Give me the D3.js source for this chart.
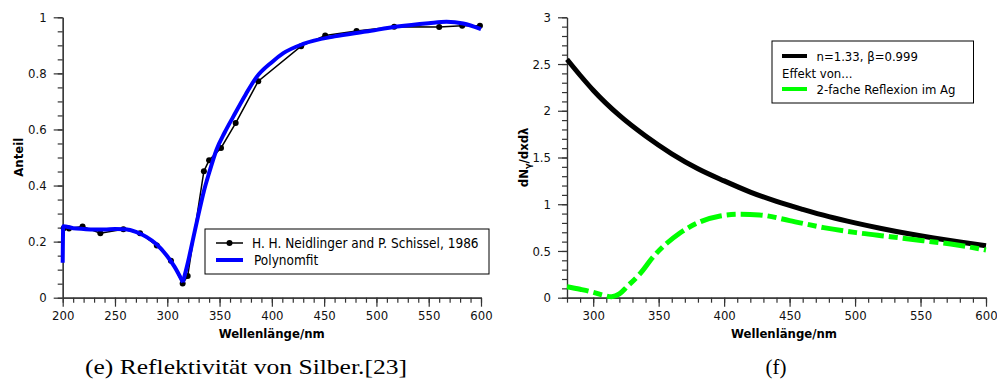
<!DOCTYPE html>
<html>
<head>
<meta charset="utf-8">
<script src="https://cdn.jsdelivr.net/npm/d3@7"></script>
<style>
  body { margin: 0; background: #fff; }
  svg { display: block; }
  text { font-family: "DejaVu Sans Condensed", "DejaVu Sans", sans-serif; }
  .caption { font-family: "Liberation Serif", "DejaVu Serif", serif; }
</style>
</head>
<body>
<div id="chart"></div>
<script>
// panel (e): measured reflectivity of silver
const measWl  = [201, 206, 219, 236, 258, 274, 290, 303.5, 314.7, 319.5, 335, 340, 351.4, 365.4, 387, 428, 451, 481, 517, 560, 582, 599];
const measVal = [0.248, 0.247, 0.254, 0.23, 0.244, 0.23, 0.186, 0.132, 0.051, 0.077, 0.451, 0.49, 0.534, 0.623, 0.772, 0.897, 0.935, 0.951, 0.966, 0.965, 0.97, 0.97];

// polynomial fit, left branch (up to the dip) and right branch
const fitLeftWl   = [200, 200.5, 210, 220, 230, 240, 250, 260, 270, 280, 290, 300, 307, 315];
const fitLeftVal  = [0.125, 0.255, 0.248, 0.245, 0.243, 0.243, 0.245, 0.244, 0.235, 0.217, 0.19, 0.148, 0.11, 0.055];
const fitRightWl  = [315, 320, 325, 330, 335, 340, 347, 355, 363, 375, 385, 400, 411, 430, 460, 490, 520, 550, 567, 583, 600];
const fitRightVal = [0.055, 0.13, 0.215, 0.3, 0.38, 0.445, 0.527, 0.59, 0.645, 0.725, 0.785, 0.84, 0.872, 0.905, 0.932, 0.949, 0.967, 0.979, 0.984, 0.978, 0.958];

// panel (f): photon yield
const yieldWl   = [280, 290, 300, 320, 340, 360, 380, 400, 420, 440, 460, 480, 500, 520, 540, 560, 580, 600];
const yieldVal  = [2.55, 2.38, 2.22, 1.95, 1.73, 1.54, 1.38, 1.25, 1.13, 1.03, 0.945, 0.867, 0.80, 0.74, 0.686, 0.638, 0.595, 0.555];
const agWl      = [280, 290, 300, 308, 314, 320, 326, 336, 346, 356, 366, 382, 397, 412, 427, 450, 476, 501, 527, 552, 578, 600];
const agVal     = [0.118, 0.09, 0.058, 0.025, 0.01, 0.04, 0.12, 0.26, 0.44, 0.58, 0.69, 0.814, 0.875, 0.893, 0.886, 0.825, 0.75, 0.696, 0.653, 0.61, 0.564, 0.51];

const xTicksE = [200, 250, 300, 350, 400, 450, 500, 550, 600];
const yTicksE = [0, 0.2, 0.4, 0.6, 0.8, 1];
const xTicksF = [300, 350, 400, 450, 500, 550, 600];
const yTicksF = [0, 0.5, 1, 1.5, 2, 2.5, 3];

const legendE = ["H. H. Neidlinger and P. Schissel, 1986", "Polynomfit"];
const legendF = ["n=1.33, β=0.999", "Effekt von...", "2-fache Reflexion im Ag"];

const width = 997, height = 387;
const svg = d3.select("#chart").append("svg")
    .attr("width", width)
    .attr("height", height);

const zip = (xs, ys) => xs.map((x, i) => ({x: x, y: ys[i]}));

function drawAxes(g, xScale, yScale, cfg){
    const h = yScale.range()[0];
    // minor ticks first, major on top
    g.append("g").attr("transform", "translate(0," + h + ")")
        .call(d3.axisBottom(xScale).tickValues(cfg.xMinor).tickSize(5).tickSizeOuter(0).tickFormat(""));
    g.append("g")
        .call(d3.axisLeft(yScale).tickValues(cfg.yMinor).tickSize(5).tickSizeOuter(0).tickFormat(""));
    g.append("g").attr("transform", "translate(0," + h + ")")
        .call(d3.axisBottom(xScale).tickValues(cfg.xTicks).tickSize(9).tickSizeOuter(0).tickPadding(4)
            .tickFormat(d3.format("d")));
    g.append("g")
        .call(d3.axisLeft(yScale).tickValues(cfg.yTicks).tickSize(9).tickSizeOuter(0).tickPadding(7)
            .tickFormat(d => String(d)));
    g.selectAll(".tick text").attr("font-size", 13).attr("fill", "#111")
        .style("font-family", "'DejaVu Sans Condensed', 'DejaVu Sans', sans-serif");
    g.selectAll(".domain, .tick line").attr("stroke", "#333").attr("stroke-width", 1.2);
}

// ---------- panel (e) ----------
const gE = svg.append("g").attr("transform", "translate(62.7,17.3)");
const xE = d3.scaleLinear().domain([200, 600]).range([0, 418.3]);
const yE = d3.scaleLinear().domain([0, 1]).range([280.4, 0]);

drawAxes(gE, xE, yE, {
    xTicks: xTicksE, yTicks: yTicksE,
    xMinor: d3.range(200, 601, 10), yMinor: d3.range(0, 1.001, 0.05)
});

const lineE = d3.line().x(d => xE(d.x)).y(d => yE(d.y));

gE.append("path").datum(zip(measWl, measVal))
    .attr("fill", "none").attr("stroke", "#000").attr("stroke-width", 1.5)
    .attr("d", lineE);
gE.selectAll(".dot").data(zip(measWl, measVal)).join("circle")
    .attr("class", "dot")
    .attr("cx", d => xE(d.x)).attr("cy", d => yE(d.y)).attr("r", 3).attr("fill", "#000");

const fitLine = d3.line().x(d => xE(d.x)).y(d => yE(d.y)).curve(d3.curveMonotoneX);
[zip(fitLeftWl, fitLeftVal), zip(fitRightWl, fitRightVal)].forEach(part => {
    gE.append("path").datum(part)
        .attr("fill", "none").attr("stroke", "#0000ff").attr("stroke-width", 4)
        .attr("stroke-linejoin", "round")
        .attr("d", fitLine);
});

// legend (e)
const legE = svg.append("g").attr("transform", "translate(205,229)");
legE.append("rect").attr("width", 284).attr("height", 45)
    .attr("fill", "#fff").attr("stroke", "#000").attr("stroke-width", 1);
legE.append("line").attr("x1", 11).attr("x2", 38).attr("y1", 14).attr("y2", 14)
    .attr("stroke", "#000").attr("stroke-width", 1.5);
legE.append("circle").attr("cx", 24.5).attr("cy", 14).attr("r", 3).attr("fill", "#000");
legE.append("line").attr("x1", 11).attr("x2", 38).attr("y1", 31).attr("y2", 31)
    .attr("stroke", "#0000ff").attr("stroke-width", 4);
legE.selectAll(".lt").data(legendE).join("text")
    .attr("class", "lt")
    .attr("x", (d, i) => i === 0 ? 47 : 49)
    .attr("y", (d, i) => 18.5 + i * 17)
    .attr("font-size", 13.5)
    .text(d => d);

gE.append("text")
    .attr("transform", "translate(-40," + 140 + ") rotate(-90)")
    .attr("text-anchor", "middle").attr("font-weight", "bold").attr("font-size", 13)
    .text("Anteil");
gE.append("text")
    .attr("x", 209).attr("y", 321)
    .attr("text-anchor", "middle").attr("font-weight", "bold").attr("font-size", 13)
    .text("Wellenlänge/nm");

// ---------- panel (f) ----------
const gF = svg.append("g").attr("transform", "translate(567,17.3)");
const xF = d3.scaleLinear().domain([280, 600]).range([0, 419]);
const yF = d3.scaleLinear().domain([0, 3]).range([280.4, 0]);

drawAxes(gF, xF, yF, {
    xTicks: xTicksF, yTicks: yTicksF,
    xMinor: d3.range(280, 601, 10), yMinor: d3.range(0, 3.001, 0.1)
});

const curveF = d3.line().x(d => xF(d.x)).y(d => yF(d.y)).curve(d3.curveMonotoneX);
gF.append("path").datum(zip(yieldWl, yieldVal))
    .attr("fill", "none").attr("stroke", "#000").attr("stroke-width", 5)
    .attr("d", curveF);
gF.append("path").datum(zip(agWl, agVal))
    .attr("fill", "none").attr("stroke", "#00ff00").attr("stroke-width", 5)
    .attr("stroke-dasharray", "22,5,9,5")
    .attr("d", curveF);

// legend (f)
const legF = svg.append("g").attr("transform", "translate(772,41)");
legF.append("rect").attr("width", 201.5).attr("height", 62)
    .attr("fill", "#fff").attr("stroke", "#000").attr("stroke-width", 1);
legF.append("line").attr("x1", 10).attr("x2", 35).attr("y1", 15).attr("y2", 15)
    .attr("stroke", "#000").attr("stroke-width", 4);
legF.append("line").attr("x1", 10).attr("x2", 35).attr("y1", 48).attr("y2", 48)
    .attr("stroke", "#00ff00").attr("stroke-width", 4);
legF.selectAll(".lt").data(legendF).join("text")
    .attr("class", "lt")
    .attr("x", (d, i) => i === 1 ? 10 : 44.5)
    .attr("y", (d, i) => 20 + i * 16.5)
    .attr("font-size", 13)
    .text(d => d);

const yLabF = gF.append("text")
    .attr("transform", "translate(-39," + 140 + ") rotate(-90)")
    .attr("text-anchor", "middle").attr("font-weight", "bold").attr("font-size", 13);
yLabF.append("tspan").text("dN");
yLabF.append("tspan").attr("font-size", 9).attr("dy", 3).text("γ");
yLabF.append("tspan").attr("dy", -3).text("/dxdλ");
gF.append("text")
    .attr("x", 217).attr("y", 321)
    .attr("text-anchor", "middle").attr("font-weight", "bold").attr("font-size", 13)
    .text("Wellenlänge/nm");

// captions
svg.append("text").attr("class", "caption")
    .attr("x", 246).attr("y", 374).attr("text-anchor", "middle").attr("font-size", 21)
    .attr("textLength", 322).attr("lengthAdjust", "spacingAndGlyphs")
    .text("(e) Reflektivität von Silber.[23]");
svg.append("text").attr("class", "caption")
    .attr("x", 776).attr("y", 374).attr("text-anchor", "middle").attr("font-size", 21)
    .text("(f)");
</script>
</body>
</html>
